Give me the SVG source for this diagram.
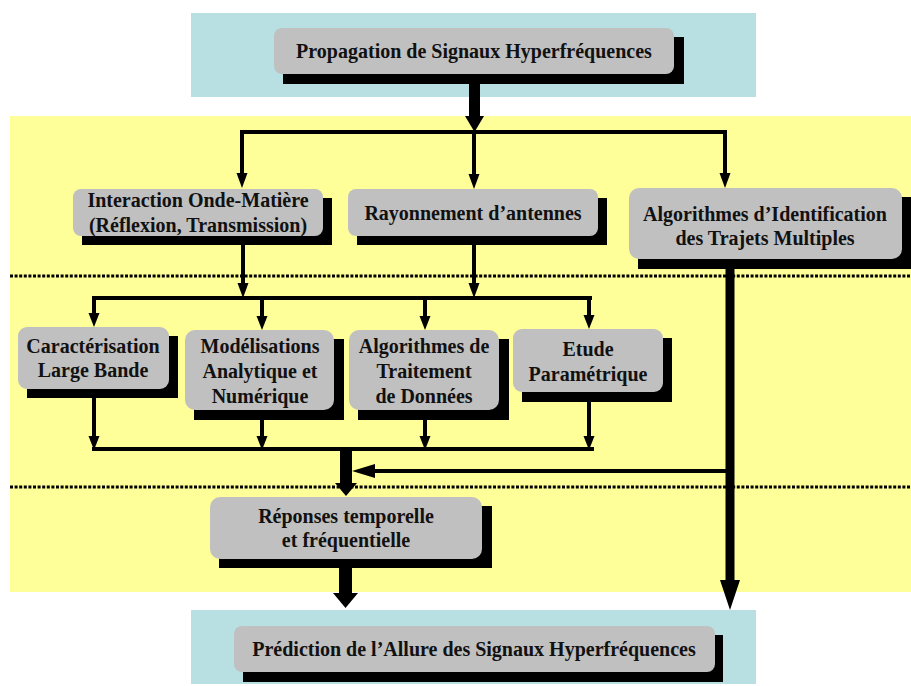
<svg xmlns="http://www.w3.org/2000/svg" width="911" height="686" viewBox="0 0 911 686">
<style>
.box{fill:#c0c0c0;}
.sh{fill:#000;}
.t{font-family:"Liberation Serif","Times New Roman",serif;font-weight:bold;font-size:20px;fill:#111;text-anchor:middle;}
.ln{stroke:#000;stroke-width:4;fill:none;}
.dot{stroke:#000;stroke-width:3;stroke-dasharray:3 1.6;fill:none;}
.hd{fill:#000;}
</style>
<rect x="191" y="13" width="565" height="84" fill="#b8e0e2"/>
<rect x="10" y="116" width="901" height="476" fill="#ffff99"/>
<rect x="191" y="610" width="565" height="74" fill="#b8e0e2"/>
<g id="separators">
<line class="dot" x1="10" y1="276" x2="911" y2="276"/>
<line class="dot" x1="10" y1="487" x2="911" y2="487"/>
</g>
<g id="connectors">
<rect x="469" y="84" width="11" height="33" class="hd"/>
<path class="hd" d="M465,116 L484,116 L474.5,132 Z"/>
<path class="ln" d="M240,132 H727"/>
<path class="ln" d="M242,130 V174"/>
<path class="hd" d="M236.5,173 L247.5,173 L242,188 Z"/>
<path class="ln" d="M474,134 V175"/>
<path class="hd" d="M468.5,174 L479.5,174 L474,189 Z"/>
<path class="ln" d="M725,130 V174"/>
<path class="hd" d="M719.5,173 L730.5,173 L725,188 Z"/>
<path class="ln" d="M243,245 V284"/>
<path class="hd" d="M237.5,283 L248.5,283 L243,298 Z"/>
<path class="ln" d="M474,245 V284"/>
<path class="hd" d="M468.5,283 L479.5,283 L474,298 Z"/>
<path class="ln" d="M92,298 H592"/>
<path class="ln" d="M94,296 V314"/>
<path class="hd" d="M88.5,313 L99.5,313 L94,327 Z"/>
<path class="ln" d="M262,298 V317"/>
<path class="hd" d="M256.5,316 L267.5,316 L262,330 Z"/>
<path class="ln" d="M425,298 V317"/>
<path class="hd" d="M419.5,316 L430.5,316 L425,330 Z"/>
<path class="ln" d="M589,296 V316"/>
<path class="hd" d="M583.5,315 L594.5,315 L589,329 Z"/>
<path class="ln" d="M94,398 V437"/>
<path class="hd" d="M88.5,436 L99.5,436 L94,450 Z"/>
<path class="ln" d="M262,420 V437"/>
<path class="hd" d="M256.5,436 L267.5,436 L262,450 Z"/>
<path class="ln" d="M425,420 V437"/>
<path class="hd" d="M419.5,436 L430.5,436 L425,450 Z"/>
<path class="ln" d="M589,402 V437"/>
<path class="hd" d="M583.5,436 L594.5,436 L589,450 Z"/>
<path class="ln" d="M92,449 H594"/>
<rect x="340" y="449" width="12" height="35" class="hd"/>
<path class="hd" d="M335,483 L357,483 L346,496 Z"/>
<rect x="725.5" y="269" width="9" height="312" class="hd"/>
<path class="hd" d="M720,580 L740,580 L730,610 Z"/>
<path class="ln" d="M728,471 H374"/>
<path class="hd" d="M375,464 L375,478 L352,471 Z"/>
<rect x="339" y="568" width="13" height="26" class="hd"/>
<path class="hd" d="M333,593 L358,593 L345.5,608 Z"/>
</g>
<g id="n-propagation">
<rect class="sh" x="283" y="37" width="401" height="47"/>
<rect class="box" x="274" y="28" width="400" height="46" rx="8"/>
<text class="t" x="474" y="58">Propagation de Signaux Hyperfréquences</text>
</g>
<g id="n-interaction">
<rect class="sh" x="82" y="198" width="250" height="47"/>
<rect class="box" x="73" y="189" width="250" height="47" rx="8"/>
<text class="t" x="198" y="207">Interaction Onde-Matière</text>
<text class="t" x="198" y="232">(Réflexion, Transmission)</text>
</g>
<g id="n-rayonnement">
<rect class="sh" x="357" y="198" width="250" height="47"/>
<rect class="box" x="348" y="189" width="250" height="47" rx="8"/>
<text class="t" x="473" y="220">Rayonnement d’antennes</text>
</g>
<g id="n-algo-id">
<rect class="sh" x="638" y="197" width="273" height="72"/>
<rect class="box" x="629" y="188" width="273" height="71" rx="10"/>
<text class="t" x="765" y="221">Algorithmes d’Identification</text>
<text class="t" x="765" y="245">des Trajets Multiples</text>
</g>
<g id="n-caracterisation">
<rect class="sh" x="27" y="336" width="151" height="62"/>
<rect class="box" x="18" y="327" width="151" height="62" rx="9"/>
<text class="t" x="93" y="353">Caractérisation</text>
<text class="t" x="93" y="377">Large Bande</text>
</g>
<g id="n-modelisations">
<rect class="sh" x="194" y="339" width="150" height="81"/>
<rect class="box" x="185" y="330" width="149" height="80" rx="10"/>
<text class="t" x="260" y="353">Modélisations</text>
<text class="t" x="260" y="378">Analytique et</text>
<text class="t" x="260" y="403">Numérique</text>
</g>
<g id="n-algo-traitement">
<rect class="sh" x="358" y="339" width="151" height="81"/>
<rect class="box" x="349" y="330" width="150" height="80" rx="10"/>
<text class="t" x="424" y="353">Algorithmes de</text>
<text class="t" x="424" y="378">Traitement</text>
<text class="t" x="424" y="403">de Données</text>
</g>
<g id="n-etude">
<rect class="sh" x="522" y="338" width="150" height="64"/>
<rect class="box" x="513" y="329" width="150" height="63" rx="9"/>
<text class="t" x="588" y="356">Etude</text>
<text class="t" x="588" y="381">Paramétrique</text>
</g>
<g id="n-reponses">
<rect class="sh" x="219" y="506" width="273" height="62"/>
<rect class="box" x="210" y="497" width="272" height="62" rx="10"/>
<text class="t" x="346" y="523">Réponses temporelle</text>
<text class="t" x="346" y="547">et fréquentielle</text>
</g>
<g id="n-prediction">
<rect class="sh" x="243" y="635" width="480" height="47"/>
<rect class="box" x="234" y="626" width="481" height="46" rx="8"/>
<text class="t" x="474" y="656">Prédiction de l’Allure des Signaux Hyperfréquences</text>
</g>
</svg>
